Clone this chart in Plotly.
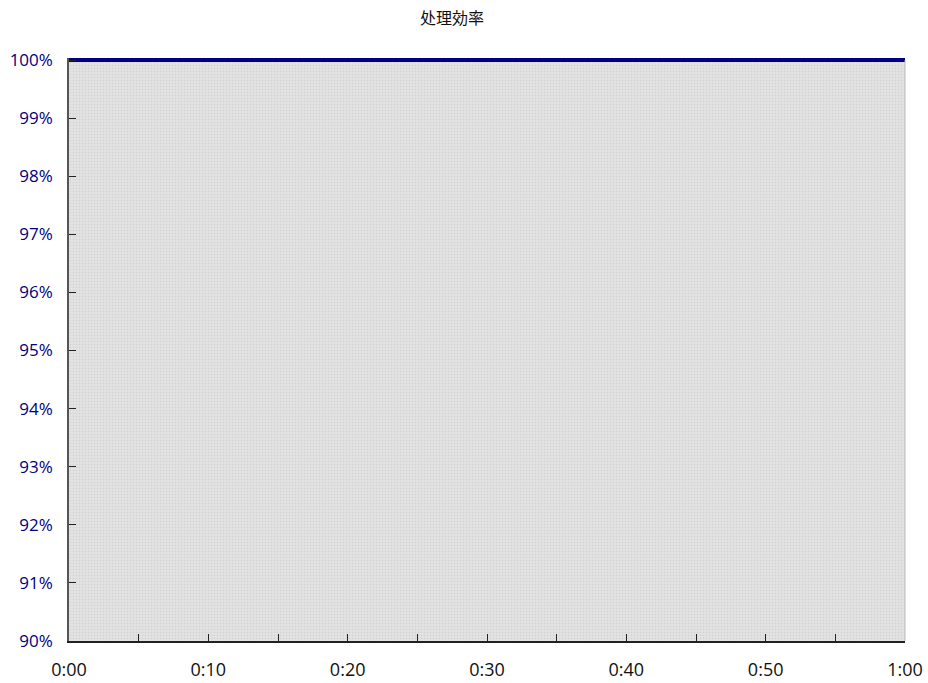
import plotly.graph_objects as go

# Processing efficiency sampled every 5 minutes over one hour
minutes = [0, 5, 10, 15, 20, 25, 30, 35, 40, 45, 50, 55, 60]
efficiency = [1.00, 1.00, 1.00, 1.00, 1.00, 1.00, 1.00, 1.00, 1.00, 1.00, 1.00, 1.00, 1.00]

x_tick_vals = [0, 10, 20, 30, 40, 50, 60]
x_tick_text = ["0:00", "0:10", "0:20", "0:30", "0:40", "0:50", "1:00"]
y_tick_vals = [0.90, 0.91, 0.92, 0.93, 0.94, 0.95, 0.96, 0.97, 0.98, 0.99, 1.00]

FONT = "Open Sans, Noto Sans CJK JP, sans-serif"
NAVY = "#000080"

fig = go.Figure()
fig.add_trace(go.Scatter(
    x=minutes,
    y=efficiency,
    mode="lines",
    line=dict(color=NAVY, width=4),
    fill="tozeroy",
    fillcolor="#dcdcdc",
    fillpattern=dict(shape=".", fgcolor="#c4c4c4", bgcolor="#e4e4e4",
                     size=3, solidity=0.35),
    hoverinfo="skip",
    showlegend=False,
))

fig.update_layout(
    width=928,
    height=683,
    margin=dict(l=69, r=23, t=58, b=42, autoexpand=False),
    paper_bgcolor="white",
    plot_bgcolor="white",
    title=dict(text="处理効率", xref="container", x=0.487, xanchor="center",
               yref="container", y=0.973, yanchor="middle",
               font=dict(family="Noto Sans CJK JP, sans-serif", size=16, color="#111111")),
    font=dict(family=FONT),
    xaxis=dict(
        range=[0, 60],
        tickvals=x_tick_vals,
        ticktext=x_tick_text,
        ticks="inside",
        ticklen=7,
        tickcolor="#222222",
        showgrid=False,
        zeroline=False,
        showline=True,
        linecolor="#222222",
        linewidth=1.5,
        tickfont=dict(family=FONT, size=18, color="#111111"),
        ticklabelstandoff=12,
        automargin=False,
        minor=dict(tickvals=[5, 15, 25, 35, 45, 55], ticks="inside", ticklen=7,
                   tickcolor="#222222"),
        fixedrange=True,
    ),
    yaxis=dict(
        range=[0.90, 1.00035],
        tickvals=y_tick_vals,
        tickformat=".0%",
        ticks="inside",
        ticklen=7,
        tickcolor="#222222",
        showgrid=False,
        zeroline=False,
        showline=True,
        linecolor="#555555",
        linewidth=1.5,
        tickfont=dict(family=FONT, size=17, color=NAVY),
        ticklabelstandoff=11,
        automargin=False,
        fixedrange=True,
    ),
    shapes=[dict(type="line", xref="paper", yref="paper", x0=1, x1=1, y0=0, y1=0.996,
                 line=dict(color="#bbbbbb", width=1))],
)

fig.write_html("out.html")
